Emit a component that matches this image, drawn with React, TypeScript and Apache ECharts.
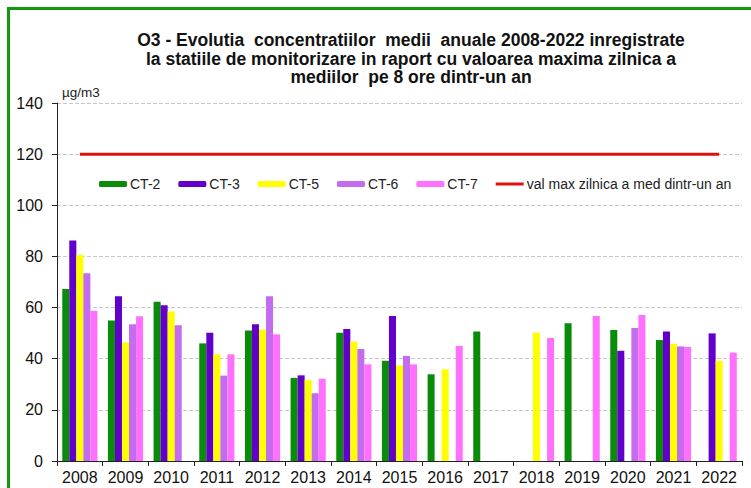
import React, { useEffect, useRef } from "react";
import * as echarts from "echarts";

const years = ["2008","2009","2010","2011","2012","2013","2014","2015","2016","2017","2018","2019","2020","2021","2022"];
const ct2 = [67.3, 54.9, 62.3, 46.0, 51.0, 32.5, 50.2, 39.2, 33.9, 50.6, null, 53.9, 51.2, 47.3, null];
const ct3 = [86.2, 64.4, 60.9, 50.2, 53.5, 33.5, 51.6, 56.7, null, null, null, null, 43.1, 50.6, 49.9];
const ct5 = [80.6, 46.3, 58.5, 41.7, 51.4, 31.7, 46.7, 37.3, 35.9, null, 50.2, null, null, 45.9, 39.2];
const ct6 = [73.4, 53.5, 53.1, 33.4, 64.4, 26.5, 43.8, 41.1, null, null, null, null, 52.0, 44.8, null];
const ct7 = [58.8, 56.6, null, 41.7, 49.5, 32.2, 37.8, 37.8, 45.0, null, 48.1, 56.7, 57.1, 44.6, 42.4];
const limitValues = [120, 120, 120, 120, 120, 120, 120, 120, 120, 120, 120, 120, 120, 120, 120];
const yTicks = { min: 0, max: 140, interval: 20 };

const FONT = "Arial, 'Liberation Sans', sans-serif";
const LIMIT_NAME = "val max zilnica a med dintr-un an";

export default function App() {
  const ref = useRef<HTMLDivElement>(null);
  useEffect(() => {
    if (!ref.current) return;
    const chart = echarts.init(ref.current, null, { renderer: "svg" });
    const barSeries = [
      { name: "CT-2", data: ct2, color: "#0a8c0a" },
      { name: "CT-3", data: ct3, color: "#6000c8" },
      { name: "CT-5", data: ct5, color: "#ffff00" },
      { name: "CT-6", data: ct6, color: "#c46cf0" },
      { name: "CT-7", data: ct7, color: "#ff70ff" },
    ].map((s) => ({
      name: s.name,
      type: "bar",
      data: s.data,
      barGap: "0%",
      barCategoryGap: "23%",
      itemStyle: { color: s.color },
    }));
    chart.setOption({
      animation: false,
      backgroundColor: "#ffffff",
      textStyle: { fontFamily: FONT },
      title: {
        text: "O3 - Evolutia  concentratiilor  medii  anuale 2008-2022 inregistrate\nla statiile de monitorizare in raport cu valoarea maxima zilnica a\nmediilor  pe 8 ore dintr-un an",
        left: 411,
        top: 31,
        textAlign: "center",
        padding: 0,
        textStyle: { fontFamily: FONT, fontSize: 17.5, fontWeight: "bold", color: "#111", lineHeight: 18.5 },
      },
      graphic: [
        {
          type: "rect",
          shape: { x: 8.5, y: 8.5, width: 780, height: 520 },
          style: { fill: "none", stroke: "#109a10", lineWidth: 3 },
          silent: true,
        },
        {
          type: "text",
          left: 62,
          top: 85,
          style: { text: "µg/m3", fontSize: 13.5, fontFamily: FONT, fill: "#222" },
        },
      ],
      legend: {
        left: 94,
        top: 172,
        itemWidth: 28,
        itemHeight: 6,
        itemGap: 18,
        textStyle: { fontSize: 14, color: "#222", fontFamily: FONT, padding: [0, 0, 0, -2] },
        data: [
          "CT-2",
          "CT-3",
          "CT-5",
          "CT-6",
          "CT-7",
          { name: LIMIT_NAME, icon: "path://M0,0L28,0L28,3L0,3Z" },
        ],
      },
      grid: { left: 57, right: 9, top: 103, bottom: 27, containLabel: false },
      xAxis: {
        type: "category",
        data: years,
        axisLine: { lineStyle: { color: "#222", width: 1 } },
        axisTick: { show: true, length: 5, lineStyle: { color: "#222" } },
        axisLabel: { fontSize: 16, color: "#111", margin: 8, interval: 0, fontFamily: FONT },
      },
      yAxis: {
        type: "value",
        min: yTicks.min,
        max: yTicks.max,
        interval: yTicks.interval,
        axisLine: { show: true, lineStyle: { color: "#222", width: 1 } },
        axisTick: { show: true, length: 5, lineStyle: { color: "#222" } },
        axisLabel: { fontSize: 16, color: "#111", margin: 14, fontFamily: FONT },
        splitLine: { show: true, lineStyle: { color: "#c8c8c8", type: "dashed", width: 1 } },
      },
      series: [
        ...barSeries,
        {
          name: LIMIT_NAME,
          type: "line",
          data: limitValues,
          symbol: "none",
          showSymbol: false,
          lineStyle: { color: "#e01010", width: 3 },
          itemStyle: { color: "#e01010" },
        },
      ],
    });
    return () => chart.dispose();
  }, []);
  return (
    <div
      ref={ref}
      style={{ position: "fixed", left: 0, top: 0, width: 751, height: 488 }}
    />
  );
}
